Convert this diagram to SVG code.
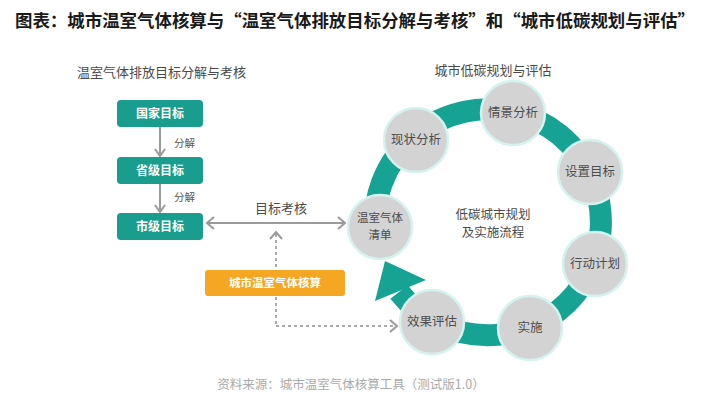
<svg xmlns="http://www.w3.org/2000/svg" width="712" height="403" viewBox="0 0 712 403">
<defs>
<style>
.t{font-family:"Noto Sans CJK SC","Noto Sans",sans-serif;}
.title{font-size:17.5px;font-weight:bold;fill:#1a1a1a;}
.sub{font-size:13px;fill:#4a4a4a;}
.box{fill:#199d8e;}
.boxt{font-size:12px;fill:#fff;font-weight:bold;text-anchor:middle;}
.lab{font-size:10.5px;fill:#555;}
.node{fill:#d3d3d3;stroke:#d4f3ef;stroke-width:2.5;}
.nt{font-size:12.5px;fill:#4d4d4d;text-anchor:middle;}
.ln{stroke:#9a9a9a;stroke-width:2;fill:none;}
.dot{stroke:#aaaaaa;stroke-width:2;fill:none;stroke-dasharray:3 3;}
.chev{stroke:#9a9a9a;stroke-width:2;fill:none;stroke-linejoin:miter;}
</style>
</defs>
<rect width="712" height="403" fill="#fff"/>
<text class="t title" x="15" y="27" textLength="680" lengthAdjust="spacingAndGlyphs">图表：城市温室气体核算与“温室气体排放目标分解与考核”和“城市低碳规划与评估”</text>

<text class="t sub" x="77" y="77">温室气体排放目标分解与考核</text>
<text class="t sub" x="493" y="75" text-anchor="middle">城市低碳规划与评估</text>

<g id="connectors">
<line class="ln" x1="160" y1="127" x2="160" y2="156"/>
<polyline class="chev" points="155,149 160,156 165,149"/>
<line class="ln" x1="160" y1="183" x2="160" y2="212"/>
<polyline class="chev" points="155,205 160,212 165,205"/>
<text class="t lab" x="174" y="147">分解</text>
<text class="t lab" x="174" y="201">分解</text>
<line class="ln" x1="207" y1="223" x2="345" y2="223"/>
<polyline class="chev" points="214,217 207,223 214,229"/>
<polyline class="chev" points="338,217 345,223 338,229"/>
<text class="t sub" x="281" y="213" text-anchor="middle">目标考核</text>
<line class="dot" x1="276" y1="234" x2="276" y2="270"/>
<line class="dot" x1="276" y1="297" x2="276" y2="326"/>
<line class="dot" x1="276" y1="326" x2="396" y2="326"/>
<polyline class="chev" points="270,239 276,232 282,239"/>
<polyline class="chev" points="390,320 397,326 390,332"/>
<path d="M399,292 A113,113 0 1 0 375.4,232.9" fill="none" stroke="#17a394" stroke-width="22"/>
<polygon points="385,261 375,301 426,280" fill="#17a394"/>
</g>

<g id="n-guojia"><rect class="box" x="117" y="100" width="86" height="27" rx="4"/><text class="t boxt" x="160" y="118">国家目标</text></g>
<g id="n-shengji"><rect class="box" x="117" y="157" width="86" height="27" rx="4"/><text class="t boxt" x="160" y="175">省级目标</text></g>
<g id="n-shiji"><rect class="box" x="117" y="213" width="86" height="27" rx="4"/><text class="t boxt" x="160" y="231">市级目标</text></g>
<g id="n-hesuan"><rect x="205" y="270" width="140" height="26" rx="3" fill="#f5a623"/><text class="t boxt" x="275" y="287" style="font-size:11.5px">城市温室气体核算</text></g>

<g id="n-qingdan"><circle class="node" cx="380" cy="227" r="32"/><text class="t nt" x="380" y="222" style="font-size:11.5px">温室气体</text><text class="t nt" x="380" y="239" style="font-size:11.5px">清单</text></g>
<g id="n-xianzhuang"><circle class="node" cx="416" cy="140" r="32"/><text class="t nt" x="416" y="144">现状分析</text></g>
<g id="n-qingjing"><circle class="node" cx="513" cy="113" r="32"/><text class="t nt" x="513" y="117">情景分析</text></g>
<g id="n-shezhi"><circle class="node" cx="590" cy="172" r="32"/><text class="t nt" x="590" y="176">设置目标</text></g>
<g id="n-xingdong"><circle class="node" cx="595" cy="264" r="32"/><text class="t nt" x="595" y="268">行动计划</text></g>
<g id="n-shishi"><circle class="node" cx="530" cy="328" r="32"/><text class="t nt" x="530" y="332">实施</text></g>
<g id="n-xiaoguo"><circle class="node" cx="432" cy="322" r="32"/><text class="t nt" x="432" y="326">效果评估</text></g>

<text class="t sub" x="493" y="219" text-anchor="middle" style="font-size:12.5px">低碳城市规划</text>
<text class="t sub" x="493" y="237" text-anchor="middle" style="font-size:12.5px">及实施流程</text>

<text class="t" x="351" y="389" text-anchor="middle" style="font-size:12.5px;fill:#aaaaaa">资料来源：城市温室气体核算工具（测试版1.0）</text>
</svg>
